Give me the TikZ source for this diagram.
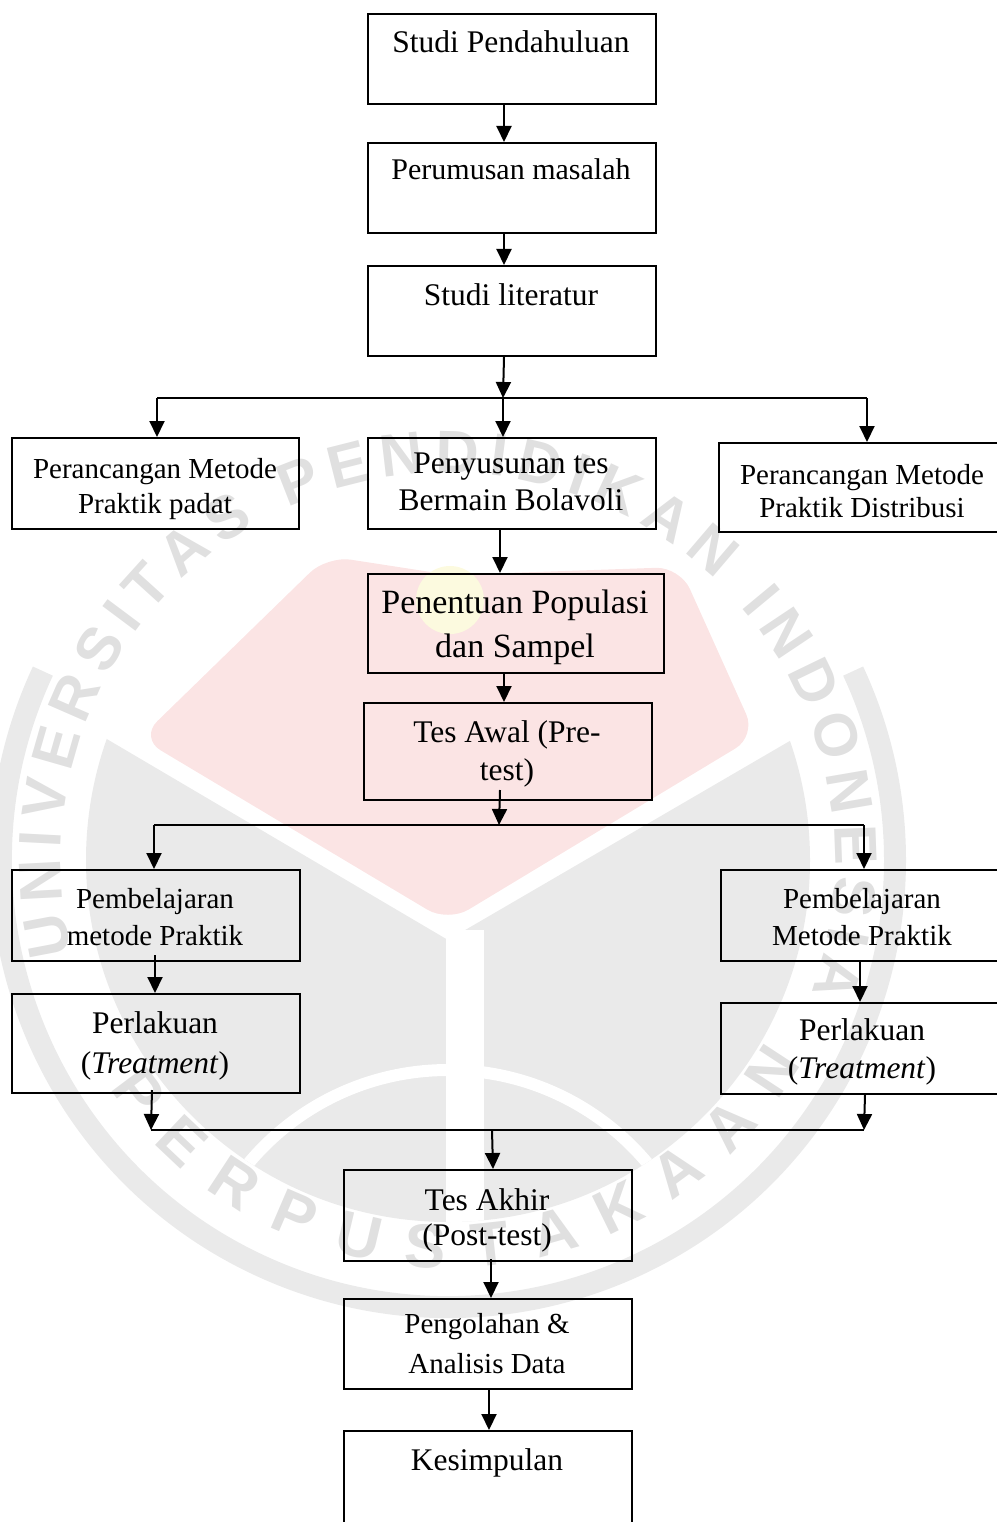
\documentclass[tikz,border=0pt]{standalone}
\usepackage{fontspec}
\setmainfont{Liberation Serif}
\setsansfont{Liberation Sans}
\usetikzlibrary{arrows.meta,decorations.text}
\definecolor{wmgrey}{HTML}{E0E0E0}
\definecolor{wmring}{HTML}{EAEAEA}
\definecolor{wmpink}{HTML}{FBE4E4}
\definecolor{wmyellow}{HTML}{FCFADF}
\begin{document}
\begin{tikzpicture}[x=1pt,y=-1pt,
  boxnode/.style={draw=black,line width=2pt,inner sep=0pt,anchor=north west},
  big/.style={anchor=base,inner sep=0pt,font=\fontsize{31.5}{36}\selectfont},
  small/.style={anchor=base,inner sep=0pt,font=\fontsize{29}{34}\selectfont},
  arr/.style={line width=2pt,-{Triangle[length=16pt,width=15pt]}},
  bar/.style={line width=1.8pt},
  wmtext/.style 2 args={decorate,decoration={text along path,text align=fit to path,text color=wmgrey,text={|\fontsize{#1}{#1}\selectfont\sffamily\bfseries|#2}}}]
\useasboundingbox (0,0) rectangle (996,1522);

% ---------- watermark (faint logo) ----------
\begin{scope}
  \draw[wmring,line width=22pt] (448,860) ++(155:447pt) arc[start angle=155,end angle=385,radius=447pt];
  \fill[wmpink,rounded corners=24pt] (140,738) -- (327,556) -- (450,575) -- (680,567) -- (756,736) -- (448,922) -- cycle;
  \fill[wmyellow] (450,600) circle[radius=34pt];
  \begin{scope}
    \clip (448,860) circle[radius=362pt];
    \fill[wmring] (100,735) -- (448,940) -- (800,735) -- (900,1300) -- (0,1300) -- cycle;
    \fill[white] (446,930) rectangle (484,1300);
    \draw[white,line width=12pt] (448,1330) circle[radius=260pt];
  \end{scope}
  \path[wmtext={60}{UNIVERSITAS PENDIDIKAN INDONESIA}] (448,860) ++(194:387pt) arc[start angle=194,end angle=-20,radius=387pt];
  \path[wmtext={62}{PERPUSTAKAAN}] (448,860) ++(214:408pt) arc[start angle=214,end angle=330,radius=408pt];
\end{scope}

% ---------- boxes ----------
\node[boxnode,minimum width=288,minimum height=90] (A) at (367,13) {};
\node[boxnode,minimum width=288,minimum height=90] (B) at (367,142) {};
\node[boxnode,minimum width=288,minimum height=90] (C) at (367,265) {};
\node[boxnode,minimum width=287,minimum height=91] (D) at (11,437) {};
\node[boxnode,minimum width=288,minimum height=91] (E) at (367,437) {};
\node[boxnode,minimum width=292,minimum height=89] (F) at (718,442) {};
\node[boxnode,minimum width=296,minimum height=99] (G) at (367,573) {};
\node[boxnode,minimum width=288,minimum height=97] (H) at (363,702) {};
\node[boxnode,minimum width=288,minimum height=91] (I) at (11,869) {};
\node[boxnode,minimum width=288,minimum height=99] (J) at (11,993) {};
\node[boxnode,minimum width=292,minimum height=91] (K) at (720,869) {};
\node[boxnode,minimum width=292,minimum height=91] (L) at (720,1002) {};
\node[boxnode,minimum width=288,minimum height=91] (M) at (343,1169) {};
\node[boxnode,minimum width=288,minimum height=90] (N) at (343,1298) {};
\node[boxnode,minimum width=288,minimum height=112] (O) at (343,1430) {};

% ---------- texts ----------
\node[big] (At) at (511,53) {Studi Pendahuluan};
\node[big,font=\fontsize{30}{34}\selectfont] (Bt) at (511,180) {Perumusan masalah};
\node[big] (Ct) at (511,305) {Studi literatur};
\node[small] (Dt1) at (155,478) {Perancangan Metode};
\node[small] (Dt2) at (155,513) {Praktik padat};
\node[big] (Et1) at (511,473) {Penyusunan tes};
\node[big] (Et2) at (511,510) {Bermain Bolavoli};
\node[small] (Ft1) at (862,484) {Perancangan Metode};
\node[small] (Ft2) at (862,517) {Praktik Distribusi};
\node[big,font=\fontsize{34}{40}\selectfont] (Gt1) at (515,613) {Penentuan Populasi};
\node[big,font=\fontsize{34}{40}\selectfont] (Gt2) at (515,657) {dan Sampel};
\node[big] (Ht1) at (507,742) {Tes Awal (Pre-};
\node[big] (Ht2) at (507,780) {test)};
\node[small] (It1) at (155,908) {Pembelajaran};
\node[small] (It2) at (155,945) {metode Praktik};
\node[big] (Jt1) at (155,1033) {Perlakuan};
\node[big] (Jt2) at (155,1073) {(\textit{Treatment})};
\node[small] (Kt1) at (862,908) {Pembelajaran};
\node[small] (Kt2) at (862,945) {Metode Praktik};
\node[big] (Lt1) at (862,1040) {Perlakuan};
\node[big] (Lt2) at (862,1078) {(\textit{Treatment})};
\node[big] (Mt1) at (487,1210) {Tes Akhir};
\node[big] (Mt2) at (487,1245) {(Post-test)};
\node[small] (Nt1) at (487,1333) {Pengolahan \&};
\node[small] (Nt2) at (487,1373) {Analisis Data};
\node[big] (Ot) at (487,1470) {Kesimpulan};

% ---------- junction points ----------
\coordinate (s1) at (503,398);
\coordinate (s1l) at (157,398);
\coordinate (s1r) at (867,398);
\coordinate (s2) at (499,825);
\coordinate (s2l) at (154,825);
\coordinate (s2r) at (864,825);
\coordinate (s3) at (492,1130);
\coordinate (s3l) at (151,1130);
\coordinate (s3r) at (864,1130);

% ---------- connectors ----------
\draw[arr] ([xshift=-8pt]A.south) -- ([xshift=-8pt]B.north);
\draw[arr] ([xshift=-8pt]B.south) -- ([xshift=-8pt]C.north);
\draw[arr] ([xshift=-8pt]C.south) -- (s1);
\draw[bar,line width=2pt] (s1l) -- (s1r);
\draw[arr] (s1l) -- (s1l |- D.north);
\draw[arr] (s1) -- (s1 |- E.north);
\draw[arr] (s1r) -- (s1r |- F.north);
\draw[arr] ([xshift=-12pt]E.south) -- ([xshift=-16pt]G.north);
\draw[arr] ([xshift=-12pt]G.south) -- ([xshift=-4pt]H.north);
\draw[arr] ([xshift=-8pt,yshift=11pt]H.south) -- (s2);
\draw[bar] (s2l) -- (s2r);
\draw[arr] (s2l) -- (s2l |- I.north);
\draw[arr] (s2r) -- (s2r |- K.north);
\draw[arr] ([xshift=-1pt,yshift=7pt]I.south) -- ([xshift=-1pt]J.north);
\draw[arr] ([xshift=-7pt]K.south) -- ([xshift=-7pt]L.north);
\draw[arr] ([xshift=-4pt,yshift=4pt]J.south) -- (s3l);
\draw[arr] ([xshift=-2pt]L.south) -- (s3r);
\draw[bar] (s3l) -- (s3r);
\draw[arr] (s3) -- ([xshift=5pt]M.north);
\draw[arr] ([xshift=3pt,yshift=3pt]M.south) -- ([xshift=3pt]N.north);
\draw[arr] ([xshift=1pt]N.south) -- ([xshift=1pt]O.north);
\end{tikzpicture}
\end{document}
